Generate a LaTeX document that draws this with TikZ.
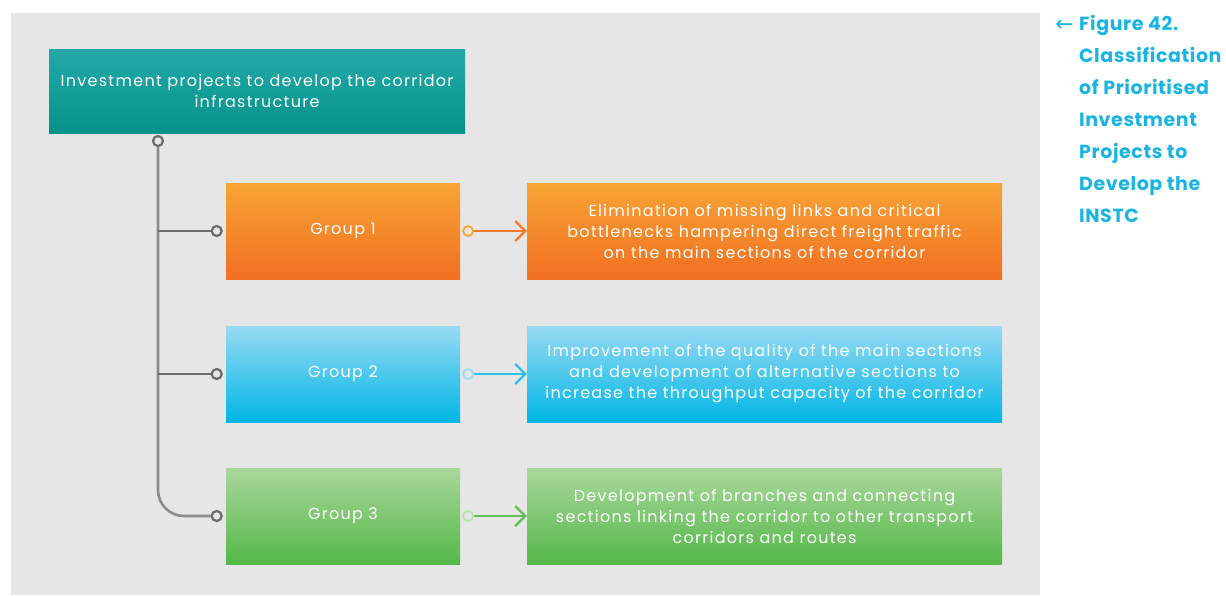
\documentclass[tikz,border=0pt]{standalone}
\usepackage{fontspec}
\setmainfont[LetterSpace=8]{Poppins}
\newfontfamily\capfont[LetterSpace=3]{Poppins}
\newfontfamily\symfont{DejaVu Sans}
\usetikzlibrary{arrows.meta,positioning}
\definecolor{PanelGray}{HTML}{E6E6E6}
\definecolor{LineGray}{HTML}{8C8C8C}
\definecolor{DotGray}{HTML}{6B6B6B}
\definecolor{TealTop}{HTML}{22A9A8}
\definecolor{TealBot}{HTML}{05928A}
\definecolor{OrangeTop}{HTML}{F7A434}
\definecolor{OrangeBot}{HTML}{F26F22}
\definecolor{SkyTop}{HTML}{98DAF3}
\definecolor{SkyBot}{HTML}{00B6E6}
\definecolor{LeafTop}{HTML}{AAD79C}
\definecolor{LeafBot}{HTML}{54B848}
\definecolor{CaptionCyan}{HTML}{1AB4E3}

\begin{document}
\begin{tikzpicture}[x=1pt,y=-1pt,
    box/.style={minimum height=96pt,text=white,font=\fontsize{16}{21}\selectfont,align=center,inner sep=0pt},
    dot/.style={circle,draw=DotGray,fill=PanelGray,line width=2.2pt,minimum size=10pt,inner sep=0pt},
    pin/.style={circle,draw=#1,fill=PanelGray,line width=1.8pt,minimum size=10pt,inner sep=0pt},
    link/.style={draw=#1,line width=2.2pt,-{Straight Barb[length=10pt,width=20pt]}}]
  \useasboundingbox (0,0) rectangle (1226,595);
  \fill[PanelGray] (11,13) rectangle (1040,595);
  % top box
  \node[box,minimum width=416pt,minimum height=84pt,top color=TealTop,bottom color=TealBot]
       (top) at (257,91) {Investment projects to develop the corridor\\infrastructure};
  % groups
  \node[box,minimum width=234pt,top color=OrangeTop,bottom color=OrangeBot] (g1) at (343,231) {Group 1};
  \node[box,minimum width=234pt,top color=SkyTop,bottom color=SkyBot] (g2) at (343,374) {Group 2};
  \node[box,minimum width=234pt,top color=LeafTop,bottom color=LeafBot] (g3) at (343,516) {Group 3};
  \node[box,minimum width=475pt,top color=OrangeTop,bottom color=OrangeBot] (r1) at (764.5,231)
       {Elimination of missing links and critical\\bottlenecks hampering direct freight traffic\\on the main sections of the corridor};
  \node[box,minimum width=475pt,top color=SkyTop,bottom color=SkyBot] (r2) at (764.5,374)
       {Improvement of the quality of the main sections\\and development of alternative sections to\\increase the throughput capacity of the corridor};
  \node[box,minimum width=475pt,top color=LeafTop,bottom color=LeafBot] (r3) at (764.5,516)
       {Development of branches and connecting\\sections linking the corridor to other transport\\corridors and routes};
  % tree
  \node[dot] (d0) at (158,141) {};
  \node[dot,left=3pt of g1] (d1) {};
  \node[dot,left=3pt of g2] (d2) {};
  \node[dot,left=3pt of g3] (d3) {};
  \draw[LineGray,line width=2.6pt,rounded corners=26pt] (d0) |- (d3);
  \draw[DotGray,line width=2.2pt] (d0 |- d1) -- (d1);
  \draw[DotGray,line width=2.2pt] (d0 |- d2) -- (d2);
  % arrows
  \node[pin=OrangeTop,right=2pt of g1] (a1) {};
  \node[pin=SkyTop,right=2pt of g2] (a2) {};
  \node[pin=LeafTop!80!white,right=2pt of g3] (a3) {};
  \draw[link=OrangeBot!80!OrangeTop] (a1) -- (r1.west);
  \draw[link=SkyBot!70!SkyTop] (a2) -- (r2.west);
  \draw[link=LeafBot!80!LeafTop] (a3) -- (r3.west);
  % caption
  \node[anchor=north west,text=CaptionCyan,align=left,inner sep=0pt,
        font=\capfont\fontsize{19}{32}\selectfont\bfseries] (cap) at (1079,15)
       {Figure 42.\\Classification\\of Prioritised\\Investment\\Projects to\\Develop the\\INSTC};
  \node[text=CaptionCyan,inner sep=0pt,font=\symfont\fontsize{22}{24}\selectfont,anchor=east]
       (cap arrow) at ([xshift=-5pt,yshift=-11pt]cap.north west) {←};
\end{tikzpicture}
\end{document}
